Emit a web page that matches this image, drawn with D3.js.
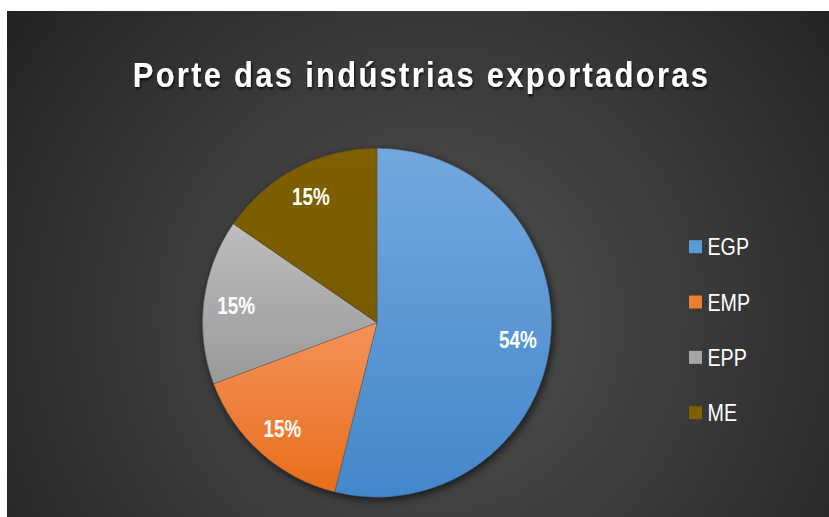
<!DOCTYPE html>
<html><head><meta charset="utf-8">
<script src="https://cdn.jsdelivr.net/npm/d3@7/dist/d3.min.js"></script>
<style>html,body{margin:0;padding:0;background:#fff;overflow:hidden}</style>
</head><body>
<svg id="c" width="829" height="517"></svg>
<script>
const title = "Porte das indústrias exportadoras";
const categories = ["EGP", "EMP", "EPP", "ME"];
const values = [53.9, 15.4, 15.3, 15.4];
const colors = ["#5b9bd5", "#ed7d31", "#a5a5a5", "#7f6000"];
const gradTop = ["#73a8de", "#f4925a", "#bdbdbd", "#7f6000"];
const gradBottom = ["#4387cb", "#e86e1b", "#999999", "#785a00"];

const FONT = "'Liberation Sans', Arial, sans-serif";
const NARROW = 0.82;

const svg = d3.select("#c");
const defs = svg.append("defs");
const bg = defs.append("radialGradient").attr("id", "bg")
  .attr("gradientUnits", "userSpaceOnUse").attr("cx", 430).attr("cy", 320).attr("r", 520);
bg.append("stop").attr("offset", 0).attr("stop-color", "#535353");
bg.append("stop").attr("offset", 1).attr("stop-color", "#232323");

categories.forEach((c, i) => {
  const g = defs.append("linearGradient").attr("id", "g" + i)
    .attr("x1", 0).attr("y1", 0).attr("x2", 0).attr("y2", 1);
  g.append("stop").attr("offset", 0).attr("stop-color", gradTop[i]);
  g.append("stop").attr("offset", 1).attr("stop-color", gradBottom[i]);
});

const sh = defs.append("filter").attr("id", "pieShadow").attr("x", "-20%").attr("y", "-20%").attr("width", "140%").attr("height", "140%");
sh.append("feDropShadow").attr("dx", 2).attr("dy", 3).attr("stdDeviation", 4)
  .attr("flood-color", "#000").attr("flood-opacity", 0.65);
const ts = defs.append("filter").attr("id", "txtShadow").attr("x", "-10%").attr("y", "-30%").attr("width", "120%").attr("height", "160%");
ts.append("feDropShadow").attr("dx", 1).attr("dy", 2).attr("stdDeviation", 1.5)
  .attr("flood-color", "#000").attr("flood-opacity", 0.8);

svg.append("rect").attr("x", 7).attr("y", 11).attr("width", 822).attr("height", 506).attr("fill", "url(#bg)");

// Title
const TSCALE = 0.86, tLeft = 132.7, tRight = 708;
const tg = svg.append("g").attr("transform", `translate(${tLeft},87) scale(${TSCALE},1)`);
const t = tg.append("text").attr("x", 0).attr("y", 0)
  .attr("font-family", FONT).attr("font-weight", "bold")
  .attr("font-size", 36).attr("fill", "#fff").attr("filter", "url(#txtShadow)").text(title);
const natural = t.node().getComputedTextLength();
const spacing = ((tRight - tLeft) / TSCALE - natural) / (title.length - 1);
t.attr("letter-spacing", spacing);

// Pie
const cx = 377, cy = 322.7, R = 174.5;
const pie = d3.pie().sort(null).value(d => d);
const arcs = pie(values);
const arc = d3.arc().innerRadius(0).outerRadius(R);
const labelArc = d3.arc().innerRadius(142).outerRadius(142);
const pg = svg.append("g").attr("transform", `translate(${cx},${cy})`);
const sg = pg.append("g").attr("filter", "url(#pieShadow)");
sg.selectAll("path").data(arcs).join("path")
  .attr("d", arc).attr("fill", (d, i) => `url(#g${i})`)
  .attr("stroke", "rgba(60,60,60,0.5)").attr("stroke-width", 0.6);

pg.selectAll("g.lbl").data(arcs).join("g").attr("class", "lbl")
  .attr("transform", d => `translate(${labelArc.centroid(d)}) scale(${NARROW},1)`)
  .append("text")
  .attr("text-anchor", "middle").attr("dy", "0.36em")
  .attr("font-family", FONT)
  .attr("font-weight", "bold").attr("font-size", 23).attr("fill", "#fff")
  .text(d => Math.round(d.value) + "%");

// Legend
const ly = d3.scalePoint().domain(categories).range([246.7, 412.7]);
const lg = svg.append("g");
const items = lg.selectAll("g").data(categories).join("g")
  .attr("transform", d => `translate(689,${ly(d)})`);
items.append("rect").attr("x", 0).attr("y", -6.5).attr("width", 13).attr("height", 13)
  .attr("fill", (d, i) => colors[i]);
items.append("g").attr("transform", `translate(18.5,8.6) scale(${NARROW},1)`)
  .append("text").attr("x", 0).attr("y", 0)
  .attr("font-family", FONT)
  .attr("font-size", 24).attr("fill", "#fff").text(d => d);
</script>
</body></html>
